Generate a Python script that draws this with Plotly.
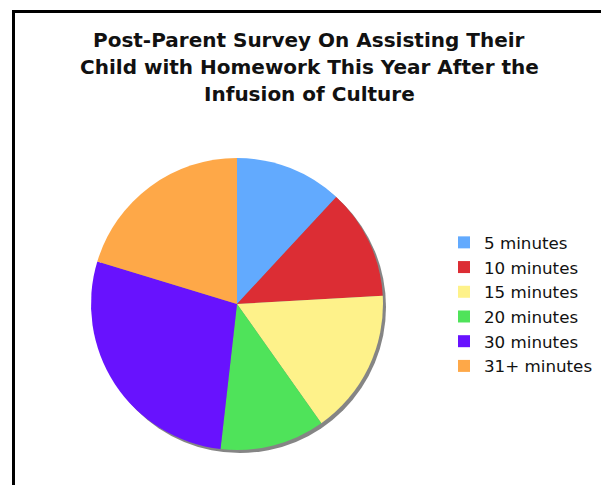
import plotly.graph_objects as go

# page body adds an 8px margin: figure coordinates = screen coordinates - 8
OFF = 8
W, H = 609 - OFF, 485 - OFF

categories = ["5 minutes", "10 minutes", "15 minutes", "20 minutes", "30 minutes", "31+ minutes"]
values = [11.9, 12.2, 16.1, 11.6, 27.9, 20.3]
colors = ["#62aafe", "#dc2d34", "#fef28a", "#4fe35a", "#6812fe", "#fea848"]
title_lines = [
    "Post-Parent Survey On Assisting Their",
    "Child with Homework This Year After the",
    "Infusion of Culture",
]


def px(x):
    return (x - OFF) / W


def py(y):
    return 1 - (y - OFF) / H


# pie geometry (screen pixels)
cx, cy, r = 237, 304, 146
sh = 3  # shadow offset


def dom(cx_, cy_, r_):
    return dict(x=[px(cx_ - r_), px(cx_ + r_)], y=[py(cy_ + r_), py(cy_ - r_)])


fig = go.Figure()
fig.add_trace(go.Pie(
    labels=["shadow"], values=[1], marker=dict(colors=["#858585"], line=dict(width=0)),
    domain=dom(cx + sh, cy + sh, r), textinfo="none", hoverinfo="skip",
    showlegend=False, sort=False,
))
fig.add_trace(go.Pie(
    labels=categories, values=values,
    marker=dict(colors=colors, line=dict(width=0)),
    domain=dom(cx, cy, r), textinfo="none", sort=False,
    direction="clockwise", rotation=0,
))

annotations = []
baselines = [49, 76, 103]
for line, b in zip(title_lines, baselines):
    annotations.append(dict(
        text="<b>" + line + "</b>", x=px(309), y=py(b + 5),
        xref="paper", yref="paper", xanchor="center", yanchor="bottom",
        showarrow=False, font=dict(family="DejaVu Sans", size=20, color="#111111"),
    ))

fig.update_layout(
    width=W, height=H,
    margin=dict(l=0, r=0, t=0, b=0),
    paper_bgcolor="white", plot_bgcolor="white",
    annotations=annotations,
    legend=dict(
        x=px(444), y=py(225), xanchor="left", yanchor="top",
        font=dict(family="DejaVu Sans", size=16.7, color="#111111"),
        bgcolor="rgba(0,0,0,0)", traceorder="normal",
    ),
    shapes=[dict(
        type="rect", xref="paper", yref="paper",
        x0=px(13.5), x1=px(604.5), y0=-0.2, y1=py(11.5),
        line=dict(color="black", width=3), fillcolor="rgba(0,0,0,0)", layer="above",
    )],
)

fig.write_html("out.html")
